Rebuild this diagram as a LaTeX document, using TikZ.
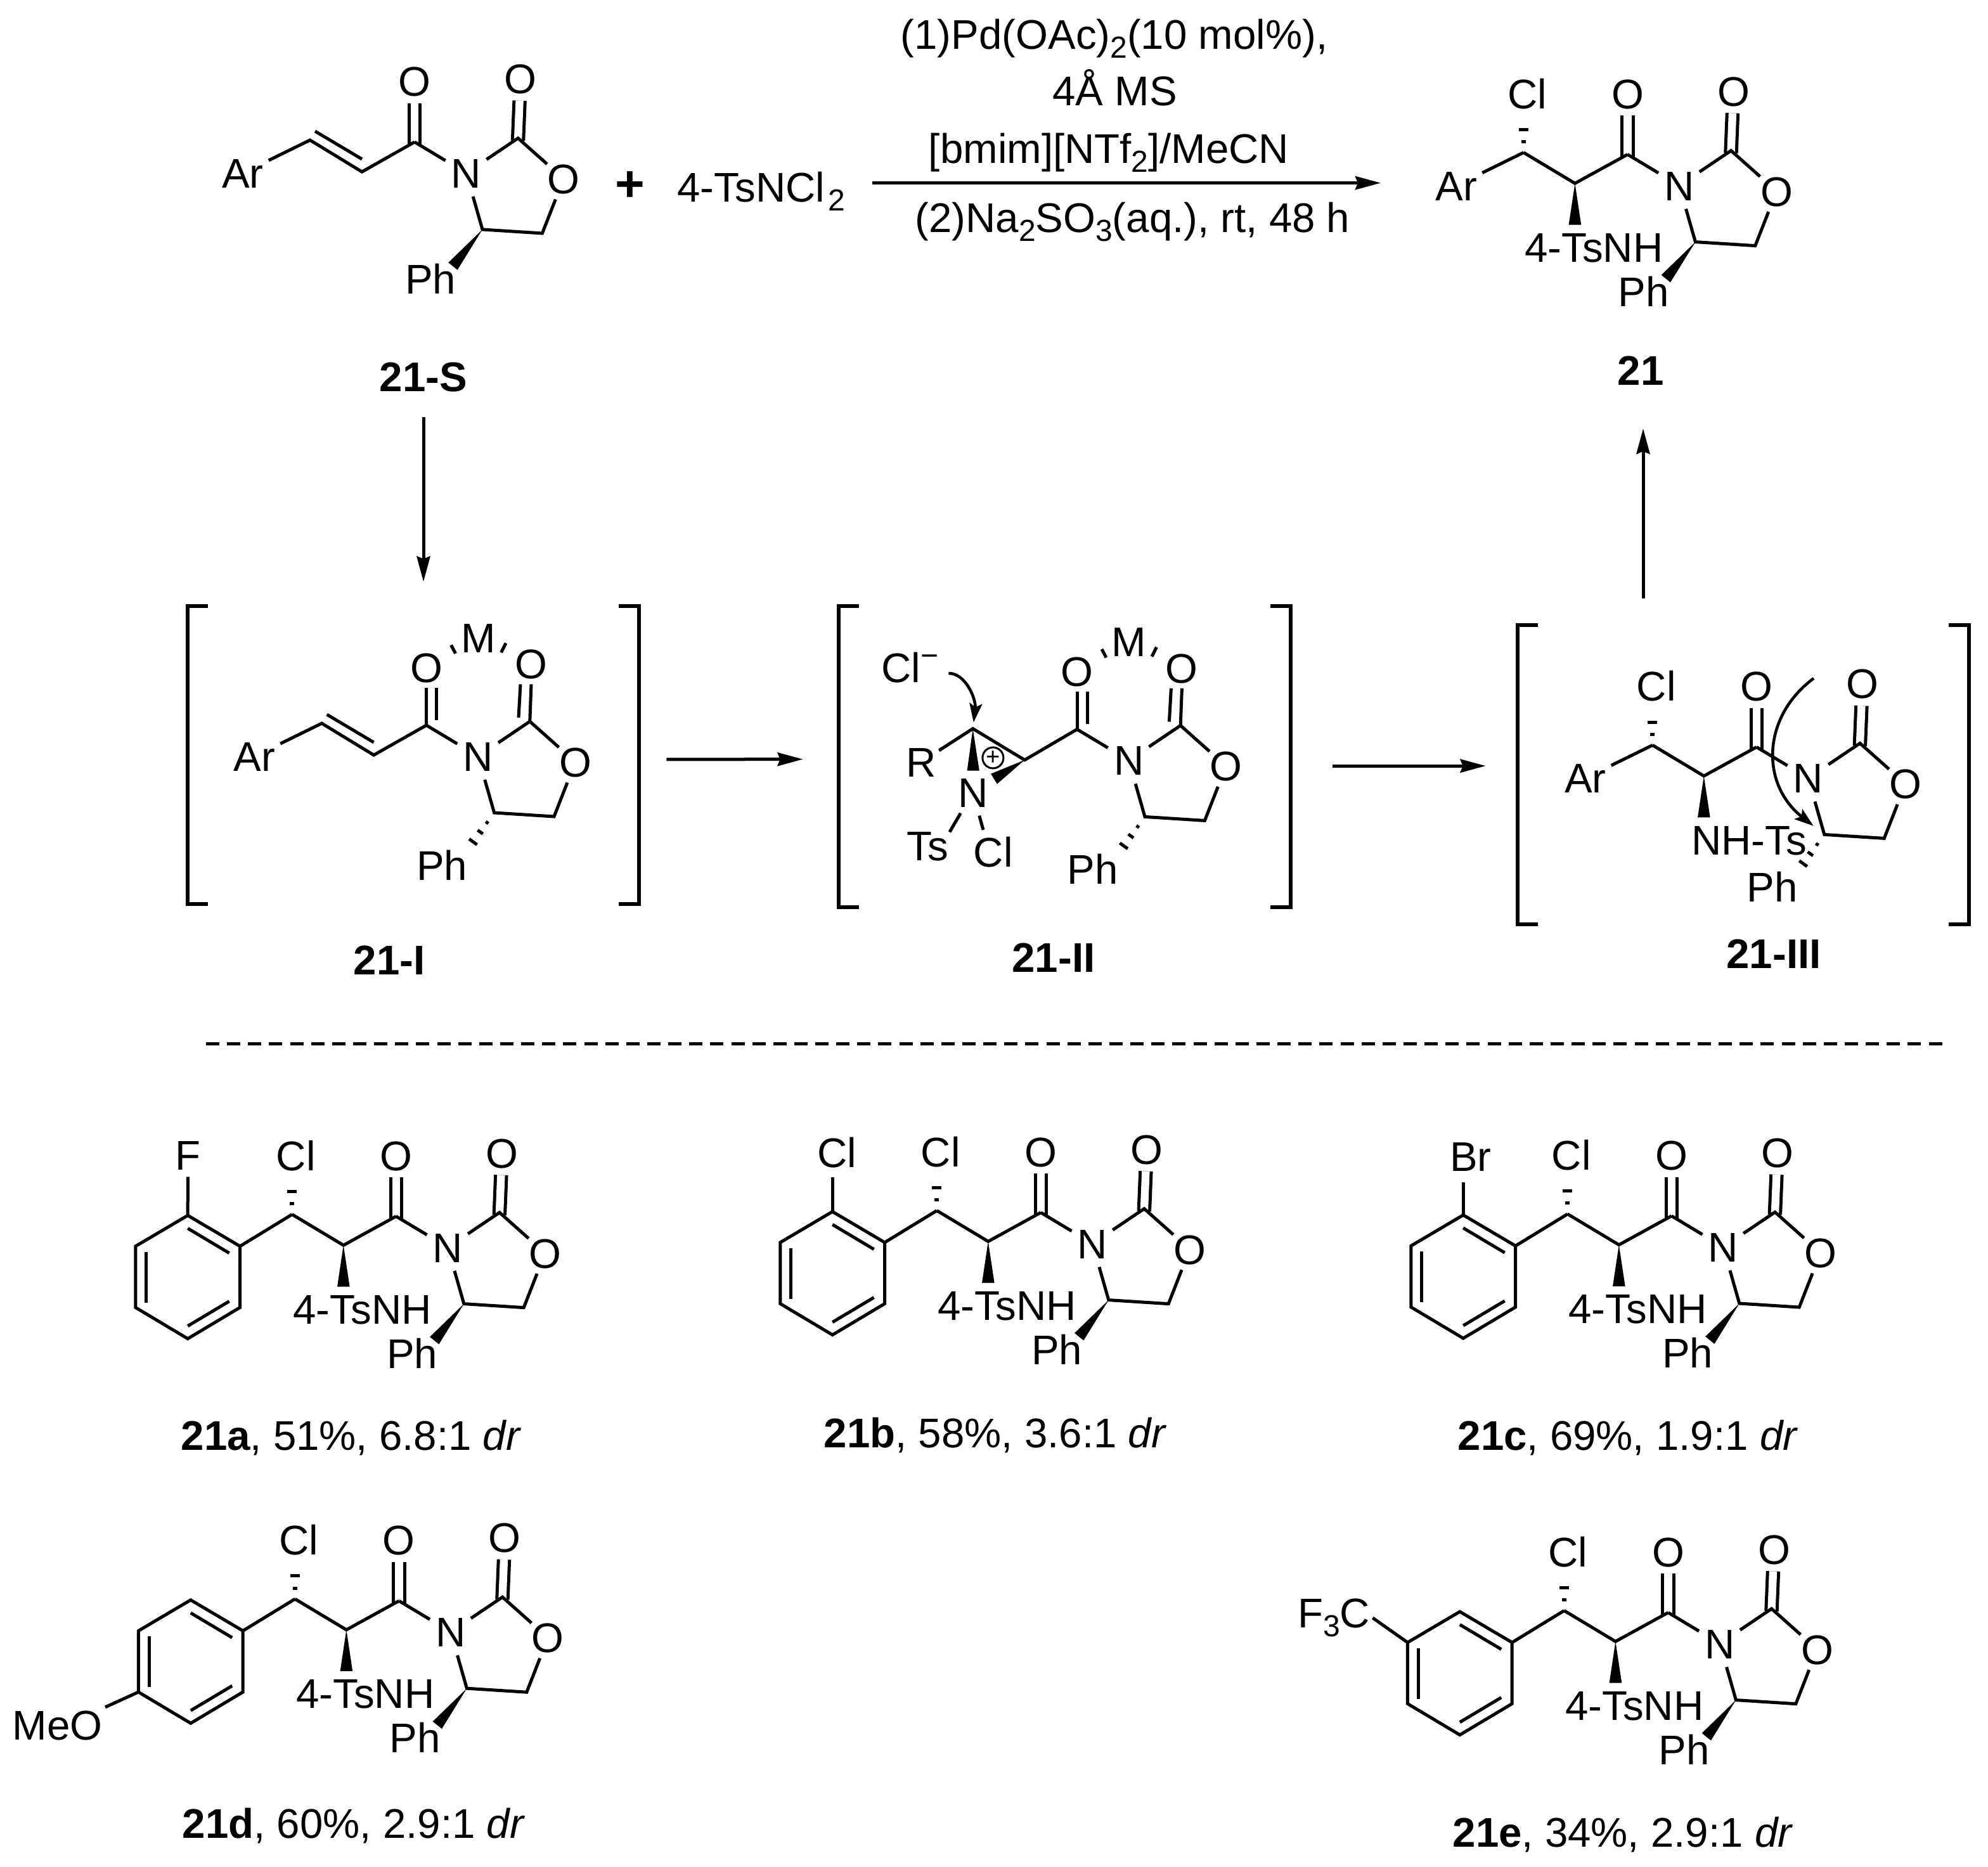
\documentclass[tikz,border=0pt]{standalone}
\usepackage{fontspec}
\setmainfont{Liberation Sans}
\usetikzlibrary{calc, arrows.meta}
\newcommand{\molfont}{\fontsize{32.7}{38}\selectfont}
\newcommand{\subt}[1]{\raisebox{-7pt}{\fontsize{24}{24}\selectfont #1}}
% bonds with a stereo sense
\newcommand{\wedgebond}[3]{\fill (#1) -- ($(#2)!#3!90:(#1)$) -- ($(#2)!#3!-90:(#1)$) -- cycle;}
\newcommand{\hashbond}[4]{\foreach \hf in {#3} {\draw[bond] ($(#1)!\hf!(#2)!#4*\hf!90:(#2)$) -- ($(#1)!\hf!(#2)!#4*\hf!-90:(#2)$);}}
% oxazolidinone, origin on the amide carbon
\newcommand{\oxatoms}{
	\coordinate (-c) at (0,0);
	\coordinate (-k) at (81.6,-3);
	\coordinate (-e) at (53.5,69);
	\coordinate (-f) at (100.7,72);
	\node[atom,minimum size=38pt] (-n) at (40.8,24.5) {N};
	\node[atom] (-or) at (117.5,29) {O};
}
\newcommand{\oxbonds}{
	\draw[bond] (-c) -- (-n);
	\draw[bond] (-n) -- (-k) -- (-or);
	\draw[bond] (-or) -- (-f) -- (-e) -- (-n);
}
\newcommand{\oxplain}{
	\oxatoms
	\node[atom] (-oa) at (0,-48) {O};
	\node[atom] (-ob) at (83.5,-50) {O};
	\draw[dbl] (-c) -- (-oa);
	\draw[dbl] (-k) -- (-ob);
	\oxbonds
}
\newcommand{\phup}{
	\coordinate (-p) at (30.2,98);
	\wedgebond{-e}{-p}{4.6pt}
	\node[lbl] (-ph) at (12.6,108) {Ph};
}
\newcommand{\phdown}{
	\coordinate (-p) at (31,100);
	\hashbond{-e}{-p}{.25,.49,.74,1}{5.2pt}
	\node[lbl] (-ph) at (12.3,110.5) {Ph};
}
% the saturated chain of the products
\newcommand{\chainpart}{
	\coordinate (-b) at (-41.5,22.8);
	\coordinate (-a) at (-82,-1.5);
	\coordinate (-h) at (-82,-29);
	\coordinate (-w) at (-41.5,55.5);
	\node[atom] (-cl) at (-79,-48) {Cl};
	\draw[bond] (-c) -- (-b) -- (-a);
	\wedgebond{-b}{-w}{4.9pt}
	\hashbond{-a}{-h}{.31,.66,1}{5.8pt}
}
\newcommand{\arlabel}{
	\node[atom,minimum size=45pt] (-ar) at (-135,24.5) {Ar};
	\draw[bond] (-ar) -- (-a);
}
\newcommand{\arene}{
	\coordinate (-v1) at (-164.3,-0.7);
	\coordinate (-v2) at (-123.1,23.6);
	\coordinate (-v3) at (-123.1,71.9);
	\coordinate (-v4) at (-164.3,96.5);
	\coordinate (-v5) at (-205.5,71.9);
	\coordinate (-v6) at (-205.5,23.6);
	\draw[bond] (-v1) -- (-v2) -- (-v3) -- (-v4) -- (-v5) -- (-v6) -- cycle;
	\draw[bond] (-v2) -- (-a);
	\draw[bond] (-164.3,9.5) -- (-131.6,29);
	\draw[bond] (-197.2,28) -- (-197.2,68);
	\draw[bond] (-164.3,86.5) -- (-131.6,67);
}
\tikzset{
	bond/.style={line width=2.5pt},
	dbl/.style={line width=2.5pt,double distance=6.2pt,shorten <=-2pt},
	arr/.style={line width=2.5pt,-{Stealth[length=20pt,width=10.5pt,inset=2pt]}},
	cur/.style={line width=2.3pt,-{Stealth[length=15pt,width=10pt,inset=3pt]}},
	brack/.style={line width=3pt},
	brbox/.style={rectangle,inner sep=0pt},
	atom/.style={circle,inner sep=0pt,minimum size=34pt,font=\molfont,text height=23.4pt,text depth=0pt},
	lbl/.style={rectangle,inner sep=2pt,font=\molfont,text height=23.4pt,text depth=0pt},
	txt/.style={inner sep=0pt,font=\molfont},
	pics/oxaz/.style={code={\oxplain #1}},
	pics/oxazm/.style={code={
		\oxatoms
		\node[atom] (-oa) at (0,-45.5) {O};
		\node[atom] (-ob) at (82.7,-48.3) {O};
		\node[atom] (-m) at (41,-69) {M};
		\draw[bond] (-c) -- (0,-29.7);
		\draw[bond] (8,-4) -- (8,-29.7);
		\draw[bond] (-k) -- (82.7,-32.3);
		\draw[bond] (72.7,-6) -- (74.2,-32.3);
		\draw[bond] (19.5,-63.2) -- (23,-56.6);
		\draw[bond] (62.7,-64.8) -- (59,-57.4);
		\oxbonds
		#1
	}},
	pics/enone/.style={code={
		\coordinate (-c) at (0,0);
		\coordinate (-b) at (-41.5,23.5);
		\coordinate (-a) at (-82.5,-1.5);
		\node[atom,minimum size=45pt] (-ar) at (-135.5,24.5) {Ar};
		\draw[bond] (-ar) -- (-a) -- (-b) -- (-c);
		\draw[bond] (-78.5,-8.5) -- (-41.5,13.5);
	}},
	pics/prod/.style={code={
		\oxplain \phup \chainpart \arlabel
		\node[lbl] (-ts) at (-26.6,73) {4-TsNH};
	}},
	pics/prodnh/.style={code={
		\oxplain \phdown \chainpart \arlabel
		\node[lbl] (-ts) at (-6,73.3) {NH-Ts};
	}},
	pics/arprod/.style={code={
		\oxplain \phup \chainpart \arene
		\node[lbl] (-ts) at (-26.6,73) {4-TsNH};
	}},
}
\newcommand{\brackets}[1]{
	\draw[brack] ([xshift=16pt]#1.north west) -- (#1.north west) -- (#1.south west) -- ([xshift=16pt]#1.south west);
	\draw[brack] ([xshift=-16pt]#1.north east) -- (#1.north east) -- (#1.south east) -- ([xshift=-16pt]#1.south east);
}
\begin{document}
\begin{tikzpicture}[x=1pt,y=-1pt]
	\useasboundingbox (0,0) rectangle (1568,1472);
	% top row
	\pic (s) at (327,112) {oxaz=\phup};
	\pic (se) at (327,112) {enone};
	\node[lbl] (l21s) at (334,297) {\textbf{21-S}};
	\node[txt,font=\fontsize{40}{40}\selectfont\bfseries] (plus) at (497,147) {+};
	\node[txt,anchor=base west] (tscl) at (534,159) {4-TsNCl\hspace{3pt}\subt{2}};
	\pic (p) at (1283.7,121.8) {prod};
	\node[lbl] (l21) at (1294,292) {\textbf{21}};
	\node[txt,anchor=base] (ca) at (878.8,39) {(1)Pd(OAc)\subt{2}(10 mol\%),};
	\node[txt,anchor=base] (cb) at (879.3,83) {4Å MS};
	\node[txt,anchor=base] (cc) at (874.5,128.5) {[bmim][NTf\subt{2}]/MeCN};
	\node[txt,anchor=base] (cd) at (893.2,183) {(2)Na\subt{2}SO\subt{3}(aq.), rt, 48 h};
	\draw[arr,shorten <=21pt,shorten >=37pt] ([yshift=2pt]tscl.east |- p-ar.west) -- ([yshift=2pt]p-ar.west);
	% intermediates
	\node[brbox,minimum width=356pt,minimum height=235pt] (int1) at (326,595.5) {};
	\node[brbox,minimum width=356.5pt,minimum height=237.5pt] (int2) at (839.75,596.75) {};
	\node[brbox,minimum width=356pt,minimum height=235.7pt] (int3) at (1375,610.85) {};
	\brackets{int1}
	\brackets{int2}
	\brackets{int3}
	\pic (i) at (336.3,572) {oxazm=\phdown};
	\pic (ie) at (336.3,572) {enone};
	\node[lbl] (l21i) at (307,757) {\textbf{21-I}};
	\pic (j) at (849.5,575.2) {oxazm=\phdown};
	\coordinate (ja) at (767.3,574.7);
	\coordinate (jb) at (808.2,599.4);
	\coordinate (jw) at (767.6,607.8);
	\coordinate (jx) at (784,614.3);
	\coordinate (jts) at (749,656.2);
	\coordinate (jcl) at (775.5,654.5);
	\coordinate (jm) at (748.2,531);
	\node[atom,minimum size=32pt] (jr) at (726.5,601) {R};
	\node[atom,minimum size=38pt] (jn) at (767.3,624.8) {N};
	\node[lbl] (jt) at (731.6,667) {Ts};
	\node[lbl] (jc) at (783.4,672) {Cl};
	\node[lbl] (jcm) at (710.7,526.4) {Cl};
	\node[txt,font=\fontsize{24}{24}\selectfont] (jmin) at (733.3,521) {−};
	\node[circle,draw,line width=1.5pt,inner sep=0pt,minimum size=16.5pt,font=\fontsize{19}{19}\selectfont] (jp) at (783.2,597.7) {+};
	\draw[bond] (jr) -- (ja) -- (jb) -- (j-c);
	\wedgebond{ja}{jw}{4.8pt}
	\wedgebond{jb}{jx}{4.7pt}
	\draw[bond] (jn) -- (jts);
	\draw[bond] (jn) -- (jcl);
	\draw[cur,shorten >=5pt] (jm) .. controls (762,531) and (770,552) .. (ja);
	\node[lbl] (l21ii) at (831,755) {\textbf{21-II}};
	\pic (t) at (1385.4,589.2) {prodnh};
	\coordinate (tm) at (1430.5,535);
	\draw[cur,shorten >=11pt] (tm) .. controls (1390,565) and (1388,618) .. (t-e);
	\node[lbl] (l21iii) at (1399,752) {\textbf{21-III}};
	\draw[arr,shorten <=18pt,shorten >=19pt] (l21s) -- (l21s |- int1.north);
	\draw[arr,shorten <=21.5pt,shorten >=28pt] ([yshift=-3.5pt]int1.east) -- ([yshift=-2pt]int2.west);
	\draw[arr,shorten <=33pt,shorten >=25pt] ([yshift=-7.3pt]int2.east) -- ([yshift=6.8pt]int3.west);
	\draw[arr,shorten <=21pt,shorten >=46pt] ([xshift=2pt]l21 |- int3.north) -- ([xshift=2pt]l21.center);
	% separator
	\coordinate (sepa) at (162.5,823.3);
	\coordinate (sepb) at (1532,823.3);
	\draw[line width=2.5pt,dash pattern=on 10.5pt off 6.07pt] (sepa) -- (sepb);
	% scope of the reaction
	\pic (a) at (312.4,959.3) {arprod};
	\node[atom] (af) at (148.2,911) {F};
	\draw[bond] (af) -- (a-v1);
	\node[lbl] (l21a) at (277,1132) {\textbf{21a}, 51\%, 6.8:1 \textit{dr}};
	\pic (b) at (820.9,956.3) {arprod};
	\node[atom] (bcl) at (660,909) {Cl};
	\draw[bond] (b-v1) -- (b-v1 |- bcl.south);
	\node[lbl] (l21b) at (785,1130) {\textbf{21b}, 58\%, 3.6:1 \textit{dr}};
	\pic (c) at (1318.4,959) {arprod};
	\node[atom] (cbr) at (1160,912) {Br};
	\draw[bond] (c-v1) -- (c-v1 |- cbr.south);
	\node[lbl] (l21c) at (1284,1132) {\textbf{21c}, 69\%, 1.9:1 \textit{dr}};
	\pic (d) at (314.7,1262.6) {arprod};
	\node[lbl] (dmeo) at (45.4,1360.3) {MeO};
	\draw[bond] (d-v5) -- (dmeo.north east);
	\node[lbl] (l21d) at (279,1438) {\textbf{21d}, 60\%, 2.9:1 \textit{dr}};
	\pic (e) at (1315.7,1271.8) {arprod};
	\node[lbl] (ecf) at (1052,1272) {F\subt{3}C};
	\draw[bond] (e-v6) -- ([yshift=-4pt]ecf.east);
	\node[lbl] (l21e) at (1280,1445) {\textbf{21e}, 34\%, 2.9:1 \textit{dr}};
\end{tikzpicture}
\end{document}
